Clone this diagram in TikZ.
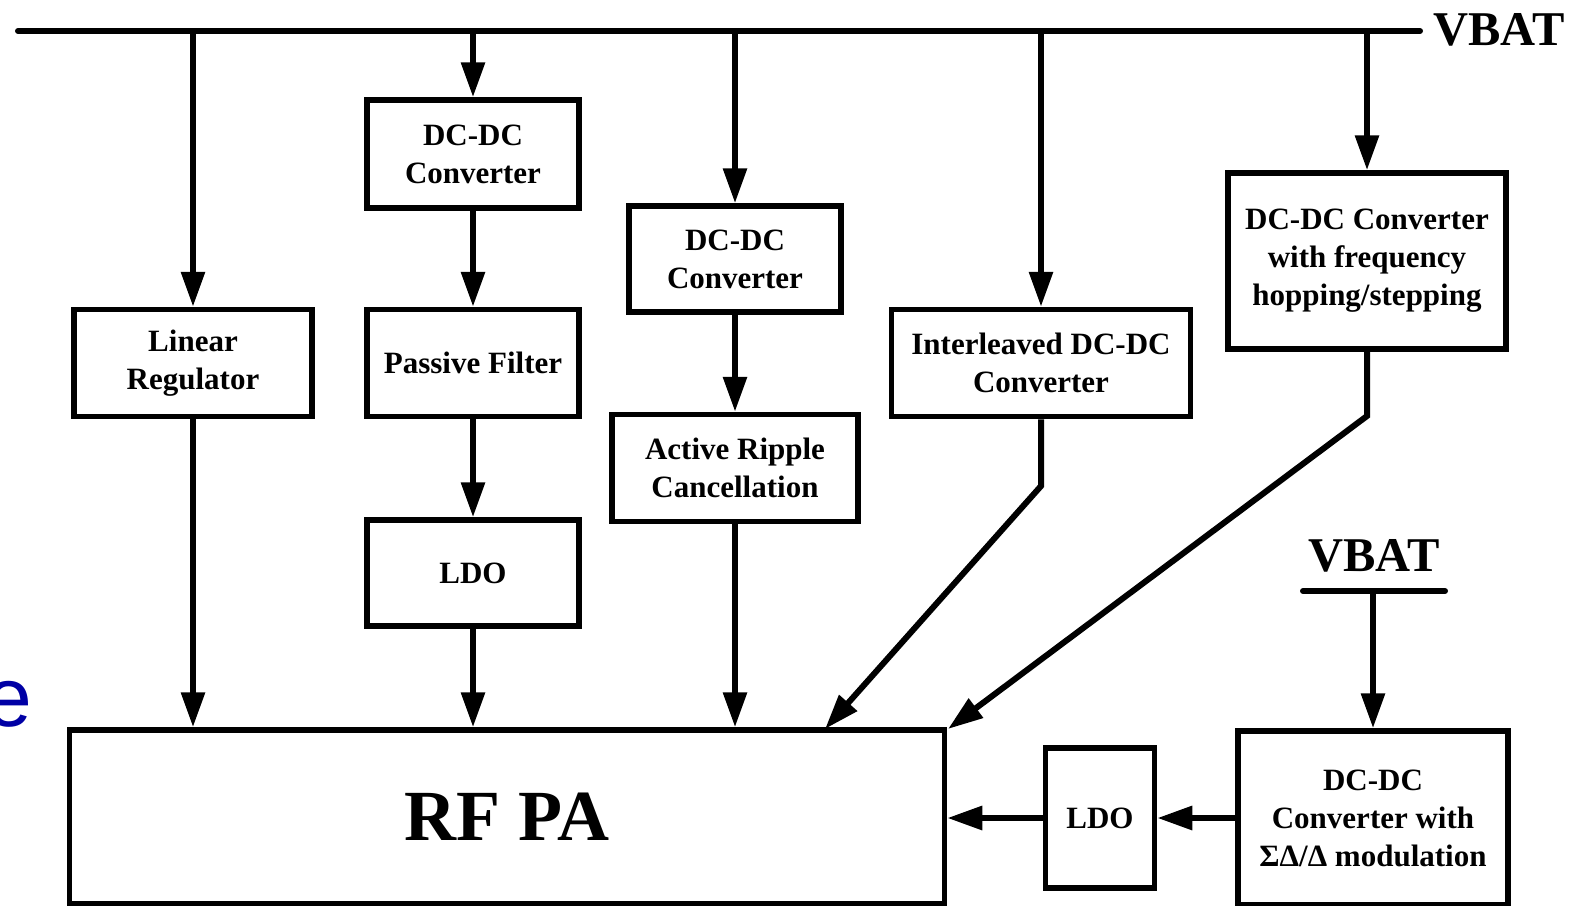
\documentclass[tikz,border=0pt]{standalone}
\usepackage{fontspec}
\setmainfont{Liberation Serif}
\newfontfamily\arialfont{Liberation Sans}
\usetikzlibrary{arrows.meta}
\definecolor{eblue}{RGB}{0,0,165}
\begin{document}
\begin{tikzpicture}[x=1pt,y=-1pt,
  blk/.style={draw, line width=5.5pt, inner sep=0pt, align=center,
    font=\fontsize{31}{38}\selectfont\bfseries},
  arr/.style={-{Triangle[length=35pt,width=23pt]}, line width=6pt},
  wire/.style={line width=6pt},
  lbl/.style={inner sep=0pt, font=\fontsize{48.5}{52}\selectfont\bfseries}]
\useasboundingbox (0,0) rectangle (1574,905);

% blue letter at the left edge
\node[anchor=base west, inner sep=0pt, text=eblue,
  font=\fontsize{84}{90}\selectfont\arialfont] (eletter) at (-15,726) {e};

% bus
\coordinate (busl) at (18,31);
\coordinate (busr) at (1420,31);
\draw[wire, line cap=round] (busl) -- (busr);
\node[lbl] (vbat1) at (1499,30) {VBAT};

% boxes
\node[blk, minimum width=238pt, minimum height=107pt] (linreg) at (193,363) {Linear\\Regulator};
\node[blk, minimum width=212pt, minimum height=108pt] (dcdc1) at (473,154) {DC-DC\\Converter};
\node[blk, minimum width=212pt, minimum height=107pt] (pf) at (473,363) {Passive Filter};
\node[blk, minimum width=212pt, minimum height=106pt] (ldo1) at (473,573) {LDO};
\node[blk, minimum width=212pt, minimum height=106pt] (dcdc2) at (735,259) {DC-DC\\Converter};
\node[blk, minimum width=246pt, minimum height=107pt] (arc) at (735,468) {Active Ripple\\Cancellation};
\node[blk, minimum width=299pt, minimum height=107pt] (inter) at (1041,363) {Interleaved DC-DC\\Converter};
\node[blk, minimum width=278pt, minimum height=176pt] (freq) at (1367,261) {DC-DC Converter\\with frequency\\hopping/stepping};
\node[blk, minimum width=875pt, minimum height=174pt,
  font=\fontsize{72}{74}\selectfont\bfseries] (rfpa) at (507,817) {RF PA};
\node[blk, minimum width=109pt, minimum height=140pt] (ldo2) at (1100,818) {LDO};
\node[blk, minimum width=270pt, minimum height=174pt] (sd) at (1373,818) {DC-DC\\Converter with\\ΣΔ/Δ modulation};

% second VBAT
\node[lbl] (vbat2) at (1374,556) {VBAT};
\coordinate (bar2l) at (1303,591);
\coordinate (bar2r) at (1445,591);
\draw[wire, line cap=round] (bar2l) -- (bar2r);

% drops from bus
\draw[arr] (linreg.north |- busl) -- (linreg.north);
\draw[arr] (dcdc1.north |- busl) -- (dcdc1.north);
\draw[arr] (dcdc2.north |- busl) -- (dcdc2.north);
\draw[arr] (inter.north |- busl) -- (inter.north);
\draw[arr] (freq.north |- busl) -- (freq.north);
\draw[arr] (sd.north |- bar2l) -- (sd.north);

% chains
\draw[arr] (dcdc1) -- (pf);
\draw[arr] (pf) -- (ldo1);
\draw[arr] (ldo1.south) -- (ldo1.south |- rfpa.north);
\draw[arr] (linreg.south) -- (linreg.south |- rfpa.north);
\draw[arr] (dcdc2) -- (arc);
\draw[arr] (arc.south) -- (arc.south |- rfpa.north);

\coordinate (b1) at (1041,486);
\coordinate (t1) at (825,729);
\draw[arr] (inter.south) -- (b1) -- (t1);
\coordinate (b2) at (1367,416);
\coordinate (t2) at (948,729);
\draw[arr] (freq.south) -- (b2) -- (t2);

\draw[arr] (sd.west) -- (ldo2.east);
\draw[arr] (ldo2.west) -- (ldo2.west -| rfpa.east);
\end{tikzpicture}
\end{document}
